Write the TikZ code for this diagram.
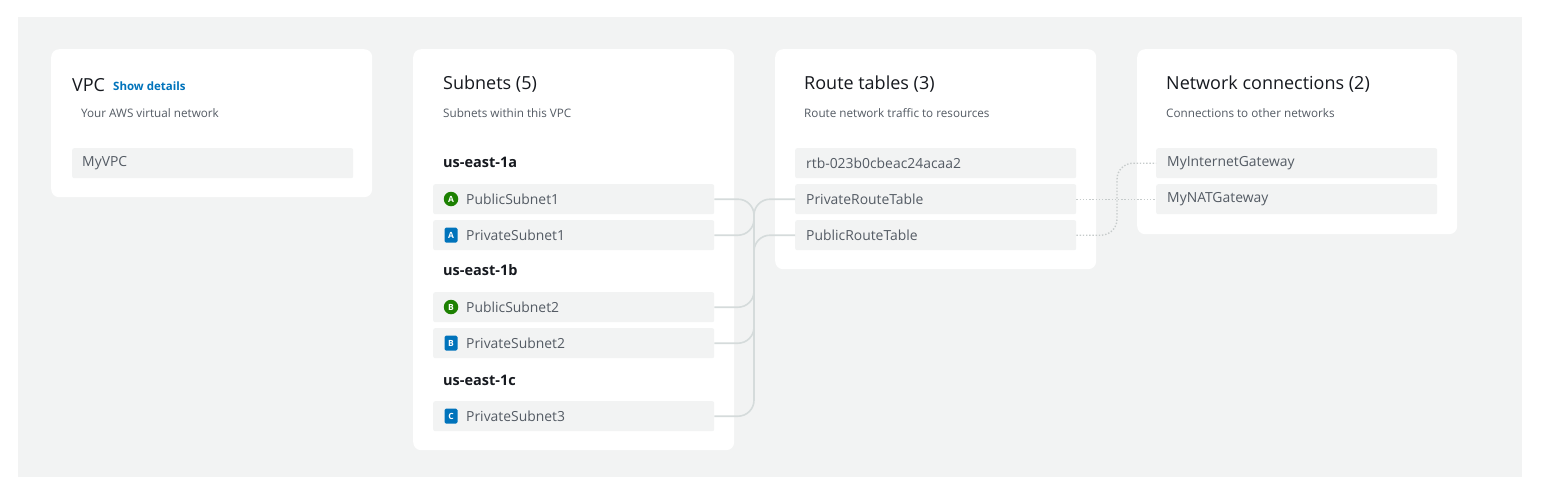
\documentclass[tikz,border=0pt]{standalone}
\usepackage{fontspec}
\setmainfont{Open Sans}
\definecolor{canvas}{HTML}{F2F3F3}
\definecolor{itembg}{HTML}{F2F3F3}
\definecolor{ink}{HTML}{16191F}
\definecolor{muted}{HTML}{545B64}
\definecolor{awsblue}{HTML}{0073BB}
\definecolor{awsgreen}{HTML}{1D8102}
\definecolor{wire}{HTML}{D5DBDB}
\definecolor{dotwire}{HTML}{C6CBCB}
\begin{document}
\begin{tikzpicture}[x=1pt,y=-1pt,
  panel/.style={fill=white, rounded corners=8pt, anchor=north west, inner sep=0pt},
  item/.style={fill=itembg, rounded corners=2pt, anchor=north west, inner sep=0pt, minimum width=281pt, minimum height=30pt},
  itemtext/.style={anchor=west, inner sep=0pt, text=muted, font=\fontsize{13.9}{16}\selectfont},
  title/.style={anchor=west, inner sep=0pt, text=ink, font=\fontsize{18}{21}\selectfont},
  subtitle/.style={anchor=west, inner sep=0pt, text=muted, font=\fontsize{11.7}{14}\selectfont},
  zone/.style={anchor=west, inner sep=0pt, text=ink, font=\bfseries\fontsize{14.5}{17}\selectfont},
  pubicon/.style={circle, fill=awsgreen, text=white, inner sep=0pt, minimum size=14.5pt, font=\bfseries\fontsize{8.5}{9}\selectfont},
  privicon/.style={rectangle, rounded corners=1.5pt, fill=awsblue, text=white, inner sep=0pt, minimum width=13pt, minimum height=15pt, font=\bfseries\fontsize{8.5}{9}\selectfont},
  wireline/.style={draw=wire, line width=1.6pt, rounded corners=16pt},
  dotline/.style={draw=dotwire, line width=1.4pt, dash pattern=on 1.4pt off 1.8pt, rounded corners=16pt}
]
\useasboundingbox (0,0) rectangle (1561,496);
\fill[canvas] (18,17) rectangle (1522,477);

% panels
\node[panel, minimum width=321pt, minimum height=148pt] (vpcpanel) at (51,49) {};
\node[panel, minimum width=321pt, minimum height=401pt] (subpanel) at (413,49) {};
\node[panel, minimum width=321pt, minimum height=220pt] (rtpanel) at (775,49) {};
\node[panel, minimum width=320pt, minimum height=185pt] (ncpanel) at (1137,49) {};

% VPC panel
\node[title] (vpct) at (72,85) {VPC};
\node[anchor=west, inner sep=0pt, text=awsblue, font=\bfseries\fontsize{11.5}{13}\selectfont] (showd) at (113,86.5) {Show details};
\node[subtitle] (vpcs) at (81,113) {Your AWS virtual network};
\node[item] (myvpc) at (72,148) {};
\node[itemtext] (myvpct) at (82,163) {MyVPC};

% Subnets panel
\node[title] (subt) at (443,84) {Subnets (5)};
\node[subtitle] (subs) at (443,113) {Subnets within this VPC};
\node[zone] (z1) at (443,162) {us-east-1a};
\node[zone] (z2) at (443,270) {us-east-1b};
\node[zone] (z3) at (443,380) {us-east-1c};

\node[item] (ps1) at (433,184) {};
\node[item] (pv1) at (433,220) {};
\node[item] (ps2) at (433,292) {};
\node[item] (pv2) at (433,328) {};
\node[item] (pv3) at (433,401) {};

\node[pubicon] (ips1) at (451,199) {A};
\node[privicon] (ipv1) at (451,235) {A};
\node[pubicon] (ips2) at (451,307) {B};
\node[privicon] (ipv2) at (451,343) {B};
\node[privicon] (ipv3) at (451,416) {C};

\node[itemtext] (tps1) at (466,199) {PublicSubnet1};
\node[itemtext] (tpv1) at (466,235) {PrivateSubnet1};
\node[itemtext] (tps2) at (466,307) {PublicSubnet2};
\node[itemtext] (tpv2) at (466,343) {PrivateSubnet2};
\node[itemtext] (tpv3) at (466,416) {PrivateSubnet3};

% Route tables panel
\node[title] (rtt) at (804,84) {Route tables (3)};
\node[subtitle] (rts) at (804,113) {Route network traffic to resources};
\node[item] (rtmain) at (795,148) {};
\node[item] (prt) at (795,184) {};
\node[item] (pub) at (795,220) {};
\node[itemtext] (trtmain) at (806,163) {rtb-023b0cbeac24acaa2};
\node[itemtext] (tprt) at (806,199) {PrivateRouteTable};
\node[itemtext] (tpub) at (806,235) {PublicRouteTable};

% Network connections panel
\node[title] (nct) at (1166,84) {Network connections (2)};
\node[subtitle] (ncs) at (1166,113) {Connections to other networks};
\node[item] (igw) at (1156,148) {};
\node[item] (nat) at (1156,184) {};
\node[itemtext] (tigw) at (1167,163) {MyInternetGateway};
\node[itemtext] (tnat) at (1167,199) {MyNATGateway};

% connectors subnets -> route tables
\coordinate (j) at (754,217);
\coordinate (jb) at (754,300);
\draw[wireline] (ps1.east) -| (j);
\draw[wireline] (pv1.east) -| (j);
\draw[wireline] (ps2.east) -| (j);
\draw[wireline] (pv2.east) -| (j);
\draw[wireline] (pv3.east) -| (j);
\draw[wireline] (prt.west) -| (j);
\draw[wireline] (pub.west) -| (jb);

% route tables -> gateways
\coordinate (g) at (1117,200);
\draw[dotline] (prt.east) -- (nat.west);
\draw[dotline] (pub.east) -| (g) |- (igw.west);
\end{tikzpicture}
\end{document}
